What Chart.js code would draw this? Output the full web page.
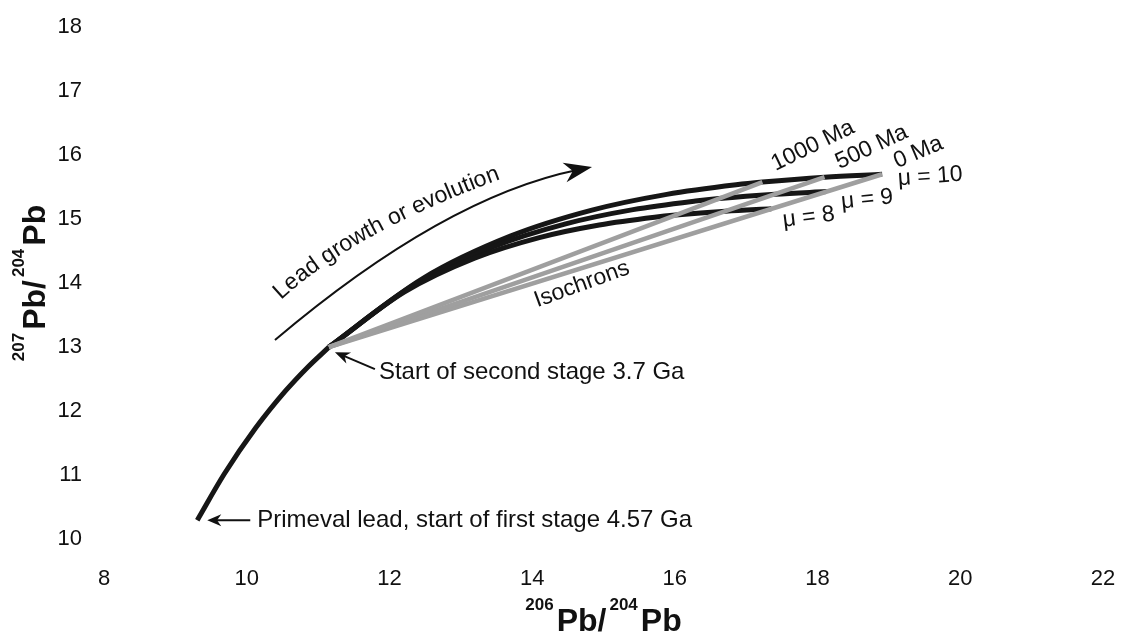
<!DOCTYPE html>
<html>
<head>
<meta charset="utf-8">
<script src="https://cdn.jsdelivr.net/npm/chart.js@4.4.1/dist/chart.umd.min.js"></script>
<style>
  html, body { margin: 0; padding: 0; background: #fff; }
</style>
</head>
<body>
<canvas id="leadChart" width="1121" height="637"></canvas>
<script>
const xTicks = [8, 10, 12, 14, 16, 18, 20, 22];
const yTicks = [10, 11, 12, 13, 14, 15, 16, 17, 18];

// first stage, 4.57 Ga -> 3.7 Ga
const stage1Pb206 = [9.307, 9.687, 10.122, 10.543, 10.851, 11.152];
const stage1Pb207 = [10.294, 11.019, 11.729, 12.313, 12.681, 12.998];

// second stage at 3.7, 3.2, 2.7, 2.2, 1.7, 1.2, 1.0, 0.5, 0 Ga
const mu8Pb206 = [11.152, 12.212, 13.193, 14.100, 14.940, 15.717, 16.012, 16.709, 17.354];
const mu8Pb207 = [12.998, 13.861, 14.388, 14.710, 14.907, 15.028, 15.062, 15.122, 15.159];
const mu9Pb206 = [11.152, 12.344, 13.448, 14.469, 15.414, 16.288, 16.619, 17.404, 18.130];
const mu9Pb207 = [12.998, 13.969, 14.562, 14.924, 15.146, 15.281, 15.320, 15.387, 15.429];
const mu10Pb206 = [11.152, 12.477, 13.703, 14.838, 15.887, 16.859, 17.227, 18.098, 18.905];
const mu10Pb207 = [12.998, 14.077, 14.736, 15.139, 15.385, 15.535, 15.577, 15.653, 15.699];

// isochrons from the 3.7 Ga point to the mu = 10 curve
const isochronNames = ['1000 Ma', '500 Ma', '0 Ma'];
const isochronPb206 = [[11.152, 17.227], [11.152, 18.098], [11.152, 18.905]];
const isochronPb207 = [[12.998, 15.577], [12.998, 15.653], [12.998, 15.699]];

const FONT = "'Liberation Sans', Arial, sans-serif";
const INK = '#111';

function series(xs, ys) {
    return xs.map((v, i) => ({ x: v, y: ys[i] }));
}

function arrowHead(ctx, tipX, tipY, angle, len, half) {
    ctx.save();
    ctx.translate(tipX, tipY);
    ctx.rotate(angle);
    ctx.beginPath();
    ctx.moveTo(0, 0);
    ctx.lineTo(-len, -half);
    ctx.lineTo(-len * 0.7, 0);
    ctx.lineTo(-len, half);
    ctx.closePath();
    ctx.fill();
    ctx.restore();
}

function pointer(ctx, tailX, tailY, tipX, tipY, len, half) {
    const ang = Math.atan2(tipY - tailY, tipX - tailX);
    ctx.lineWidth = 2;
    ctx.beginPath();
    ctx.moveTo(tailX, tailY);
    ctx.lineTo(tipX - Math.cos(ang) * len * 0.6, tipY - Math.sin(ang) * len * 0.6);
    ctx.stroke();
    arrowHead(ctx, tipX, tipY, ang, len, half);
}

function rotatedText(ctx, text, x, y, deg) {
    ctx.save();
    ctx.translate(x, y);
    ctx.rotate(deg * Math.PI / 180);
    ctx.textAlign = 'left';
    ctx.textBaseline = 'alphabetic';
    ctx.fillText(text, 0, 0);
    ctx.restore();
}

// lay characters one by one along a quadratic curve (runs on straight past its end)
function textAlongCurve(ctx, text, p0, p1, p2) {
    const pts = [];
    let total = 0;
    for (let i = 0; i <= 400; i++) {
        const t = i / 400, u = 1 - t;
        const x = u * u * p0[0] + 2 * u * t * p1[0] + t * t * p2[0];
        const y = u * u * p0[1] + 2 * u * t * p1[1] + t * t * p2[1];
        if (i > 0) total += Math.hypot(x - pts[i - 1].x, y - pts[i - 1].y);
        pts.push({ x: x, y: y, s: total });
    }
    const n = pts.length;
    const endAng = Math.atan2(pts[n - 1].y - pts[n - 2].y, pts[n - 1].x - pts[n - 2].x);
    ctx.textAlign = 'center';
    ctx.textBaseline = 'alphabetic';
    let s = 0;
    for (let i = 0; i < text.length; i++) {
        const w = ctx.measureText(text.slice(0, i + 1)).width - ctx.measureText(text.slice(0, i)).width;
        const mid = s + w / 2;
        let x, y, ang;
        if (mid >= total) {
            ang = endAng;
            x = pts[n - 1].x + Math.cos(ang) * (mid - total);
            y = pts[n - 1].y + Math.sin(ang) * (mid - total);
        } else {
            let k = Math.max(1, pts.findIndex(p => p.s >= mid));
            const a = pts[k - 1], b = pts[k];
            x = b.x; y = b.y;
            ang = Math.atan2(b.y - a.y, b.x - a.x);
        }
        ctx.save();
        ctx.translate(x, y);
        ctx.rotate(ang);
        ctx.fillText(text[i], 0, 0);
        ctx.restore();
        s += w;
    }
}

// axis title with raised isotope numbers
function isotopeTitle(ctx, parts, cx, baseY) {
    const big = 'bold 32px ' + FONT, small = 'bold 17px ' + FONT;
    const gap = 3;
    let width = 0;
    parts.forEach(p => {
        ctx.font = p.sup ? small : big;
        width += ctx.measureText(p.t).width + (p.gap ? gap : 0);
    });
    let x = cx - width / 2;
    ctx.textAlign = 'left';
    ctx.textBaseline = 'alphabetic';
    parts.forEach(p => {
        ctx.font = p.sup ? small : big;
        ctx.fillText(p.t, x, p.sup ? baseY - 21 : baseY);
        x += ctx.measureText(p.t).width + (p.gap ? gap : 0);
    });
}

const notes = {
    id: 'notes',
    afterDatasetsDraw(chart) {
        const { ctx, chartArea, scales } = chart;
        const px = v => scales.x.getPixelForValue(v);
        const py = v => scales.y.getPixelForValue(v);
        ctx.save();
        ctx.fillStyle = INK;
        ctx.strokeStyle = INK;

        // growth arrow
        const a0 = [px(10.396), py(13.109)];
        const a1 = [px(12.765), py(15.344)];
        const tip = [px(14.839), py(15.8125)];
        const ang = Math.atan2(tip[1] - a1[1], tip[0] - a1[0]);
        ctx.lineWidth = 2;
        ctx.beginPath();
        ctx.moveTo(a0[0], a0[1]);
        ctx.quadraticCurveTo(a1[0], a1[1], tip[0] - Math.cos(ang) * 14, tip[1] - Math.sin(ang) * 14);
        ctx.stroke();
        arrowHead(ctx, tip[0], tip[1], ang, 28, 10);

        ctx.font = '23px ' + FONT;
        textAlongCurve(ctx, 'Lead growth or evolution',
            [px(10.48), py(13.734)], [px(11.50), py(14.789)], [px(13.60), py(15.641)]);

        // primeval lead
        ctx.font = '24px ' + FONT;
        const p0x = px(stage1Pb206[0]), p0y = py(stage1Pb207[0]);
        pointer(ctx, p0x + 53, p0y, p0x + 10, p0y, 14, 6);
        ctx.textAlign = 'left';
        ctx.textBaseline = 'middle';
        ctx.fillText('Primeval lead, start of first stage 4.57 Ga', p0x + 60, p0y);

        // start of the second stage
        const s2x = px(stage1Pb206[stage1Pb206.length - 1]), s2y = py(stage1Pb207[stage1Pb207.length - 1]);
        pointer(ctx, s2x + 46, s2y + 22, s2x + 6, s2y + 5, 15, 6);
        ctx.textBaseline = 'alphabetic';
        ctx.fillText('Start of second stage 3.7 Ga', s2x + 50, s2y + 32);

        // isochron and mu labels
        ctx.font = '23px ' + FONT;
        rotatedText(ctx, 'Isochrons', px(14.07), py(13.62), -20);
        const isoOffsets = [[13, -11, -26], [15, -8, -25], [15, -6, -23]];
        isochronNames.forEach((name, i) => {
            const o = isoOffsets[i];
            rotatedText(ctx, name, px(isochronPb206[i][1]) + o[0], py(isochronPb207[i][1]) + o[1], o[2]);
        });
        const last = a => a[a.length - 1];
        rotatedText(ctx, 'μ = 8', px(last(mu8Pb206)) + 12, py(last(mu8Pb207)) + 18, -7);
        rotatedText(ctx, 'μ = 9', px(last(mu9Pb206)) + 15, py(last(mu9Pb207)) + 17, -6);
        rotatedText(ctx, 'μ = 10', px(last(mu10Pb206)) + 16, py(last(mu10Pb207)) + 11, -4);

        // axis titles
        const cx = (chartArea.left + chartArea.right) / 2;
        const cy = (chartArea.top + chartArea.bottom) / 2;
        isotopeTitle(ctx, [{ t: '206', sup: true, gap: true }, { t: 'Pb/', gap: true }, { t: '204', sup: true, gap: true }, { t: 'Pb' }], cx, 631);
        ctx.save();
        ctx.translate(45, cy);
        ctx.rotate(-Math.PI / 2);
        isotopeTitle(ctx, [{ t: '207', sup: true, gap: true }, { t: 'Pb/', gap: true }, { t: '204', sup: true, gap: true }, { t: 'Pb' }], 0, 0);
        ctx.restore();

        ctx.restore();
    }
};

const curveStyle = {
    borderColor: '#161616',
    borderWidth: 5,
    pointRadius: 0,
    cubicInterpolationMode: 'monotone',
    borderJoinStyle: 'round',
    order: 1
};

const datasets = [
    Object.assign({ label: 'First stage', data: series(stage1Pb206, stage1Pb207) }, curveStyle),
    Object.assign({ label: 'μ = 8', data: series(mu8Pb206, mu8Pb207) }, curveStyle),
    Object.assign({ label: 'μ = 9', data: series(mu9Pb206, mu9Pb207) }, curveStyle),
    Object.assign({ label: 'μ = 10', data: series(mu10Pb206, mu10Pb207) }, curveStyle)
];
isochronNames.forEach((name, i) => {
    datasets.push({
        label: name,
        data: series(isochronPb206[i], isochronPb207[i]),
        borderColor: '#9f9f9f',
        borderWidth: 4.5,
        pointRadius: 0,
        order: 0
    });
});

const tickFont = { family: FONT, size: 22 };

new Chart(document.getElementById('leadChart'), {
    type: 'line',
    data: { datasets: datasets },
    options: {
        responsive: false,
        devicePixelRatio: 1,
        animation: false,
        layout: { padding: { top: 27, right: 18, left: 0, bottom: 0 } },
        plugins: {
            legend: { display: false },
            tooltip: { enabled: false }
        },
        scales: {
            x: {
                type: 'linear',
                min: xTicks[0],
                max: xTicks[xTicks.length - 1],
                afterBuildTicks: scale => { scale.ticks = xTicks.map(v => ({ value: v })); },
                afterFit: scale => {
                    // fixed band under the plot, no extra side padding for the end labels
                    scale.height = 98;
                    scale.paddingLeft = 0;
                    scale.paddingRight = 0;
                },
                grid: { display: false, drawTicks: false },
                border: { display: false },
                ticks: { font: tickFont, color: INK, padding: 27, maxRotation: 0 }
            },
            y: {
                type: 'linear',
                min: yTicks[0],
                max: yTicks[yTicks.length - 1],
                afterBuildTicks: scale => { scale.ticks = yTicks.map(v => ({ value: v })); },
                afterFit: scale => {
                    scale.width = 104;
                    scale.paddingTop = 0;
                    scale.paddingBottom = 0;
                },
                grid: { display: false, drawTicks: false },
                border: { display: false },
                ticks: { font: tickFont, color: INK, padding: 22 }
            }
        }
    },
    plugins: [notes]
});
</script>
</body>
</html>
